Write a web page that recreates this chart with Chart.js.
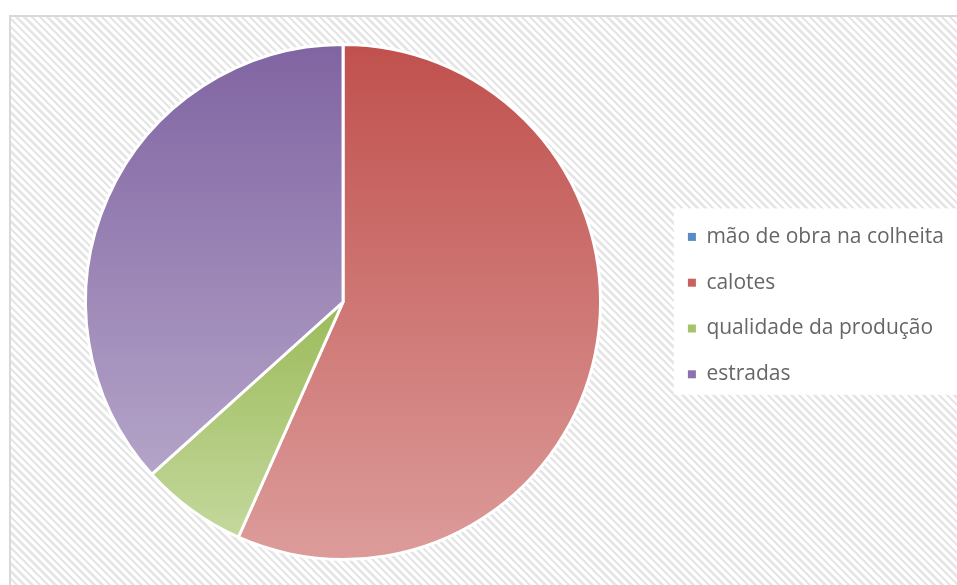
<!DOCTYPE html>
<html>
<head>
<meta charset="utf-8">
<script src="https://cdn.jsdelivr.net/npm/chart.js@4"></script>
<style>
  html, body { margin: 0; padding: 0; background: #fff; }
  body { width: 957px; height: 585px; overflow: hidden; position: relative; }
  #frame {
    position: absolute; left: 9px; top: 15px; width: 960px; height: 580px;
    border: 2px solid #d9d9d9; box-sizing: border-box;
    background: repeating-linear-gradient(45deg, #ffffff 0px, #ffffff 3px, #e6e6e6 3px, #e6e6e6 5.5px);
  }
  #wrap { position: absolute; left: 0; top: 0; width: 957px; height: 585px; }
</style>
</head>
<body>
<div id="frame"></div>
<div id="wrap"><canvas id="pie"></canvas></div>
<script>
(() => {
  const categories = ["mão de obra na colheita", "calotes", "qualidade da produção", "estradas"];
  const values = [0, 17, 2, 11];
  const topColors = ["#4f81bd", "#c0504d", "#9bbb59", "#8064a2"];
  const bottomColors = ["#a7c0de", "#dc9c9a", "#c4d89d", "#b4a4c8"];
  const legendColors = ["#5b8bc6", "#c9625f", "#a6c36b", "#8c72ad"];

  const canvas = document.getElementById("pie");

  // vertical extent of a slice, angles measured clockwise from 12 o'clock
  function sliceBounds(cy, r, a0, a1) {
    const ys = [cy, cy - r * Math.cos(a0), cy - r * Math.cos(a1)];
    if (a0 <= 0) ys.push(cy - r);
    if (a0 <= Math.PI && a1 >= Math.PI) ys.push(cy + r);
    return [Math.min(...ys), Math.max(...ys)];
  }

  function sliceFill(context) {
    const chart = context.chart;
    const area = chart.chartArea;
    const i = context.dataIndex;
    if (!area) return topColors[i];
    const cx = (area.left + area.right) / 2;
    const cy = (area.top + area.bottom) / 2;
    const r = Math.min(area.right - area.left, area.bottom - area.top) / 2;
    const total = values.reduce((sum, v) => sum + v, 0);
    const before = values.slice(0, i).reduce((sum, v) => sum + v, 0);
    const a0 = (before / total) * Math.PI * 2;
    const a1 = ((before + values[i]) / total) * Math.PI * 2;
    const [y0, y1] = sliceBounds(cy, r, a0, a1);
    const grad = chart.ctx.createLinearGradient(cx, y0, cx, Math.max(y1, y0 + 1));
    grad.addColorStop(0, topColors[i]);
    grad.addColorStop(1, bottomColors[i]);
    return grad;
  }

  // white panel behind the legend entries only
  const legendBackground = {
    id: "legendBackground",
    beforeDraw(chart) {
      const legend = chart.legend;
      if (!legend || !legend.legendHitBoxes || !legend.legendHitBoxes.length) return;
      const boxes = legend.legendHitBoxes;
      const first = boxes[0];
      const last = boxes[boxes.length - 1];
      const ctx = chart.ctx;
      ctx.save();
      ctx.fillStyle = "#ffffff";
      const left = first.left - 14;
      const top = first.top - 18;
      ctx.fillRect(left, top, chart.width - left, last.top + last.height + 10 - top);
      ctx.restore();
    }
  };

  new Chart(canvas.getContext("2d"), {
    type: "pie",
    data: {
      labels: categories,
      datasets: [{
        data: values,
        backgroundColor: sliceFill,
        borderColor: "#ffffff",
        borderWidth: 3
      }]
    },
    options: {
      responsive: true,
      maintainAspectRatio: false,
      animation: false,
      layout: {
        padding: { left: 23, right: 3, top: 43, bottom: 24 }
      },
      plugins: {
        tooltip: { enabled: false },
        legend: {
          position: "right",
          align: "center",
          // empty title only nudges the entries down a little
          title: {
            display: true,
            text: "",
            font: { size: 1 },
            padding: { top: 6, bottom: 0 }
          },
          labels: {
            boxWidth: 8,
            boxHeight: 8,
            padding: 24.8,
            color: "#595959",
            font: { family: "'Open Sans', sans-serif", size: 21 },
            generateLabels: () => categories.map((name, i) => ({
              text: name,
              fillStyle: legendColors[i],
              strokeStyle: "#ffffff",
              lineWidth: 0,
              hidden: false,
              index: i
            }))
          }
        }
      }
    },
    plugins: [legendBackground]
  });
})();
</script>
</body>
</html>
